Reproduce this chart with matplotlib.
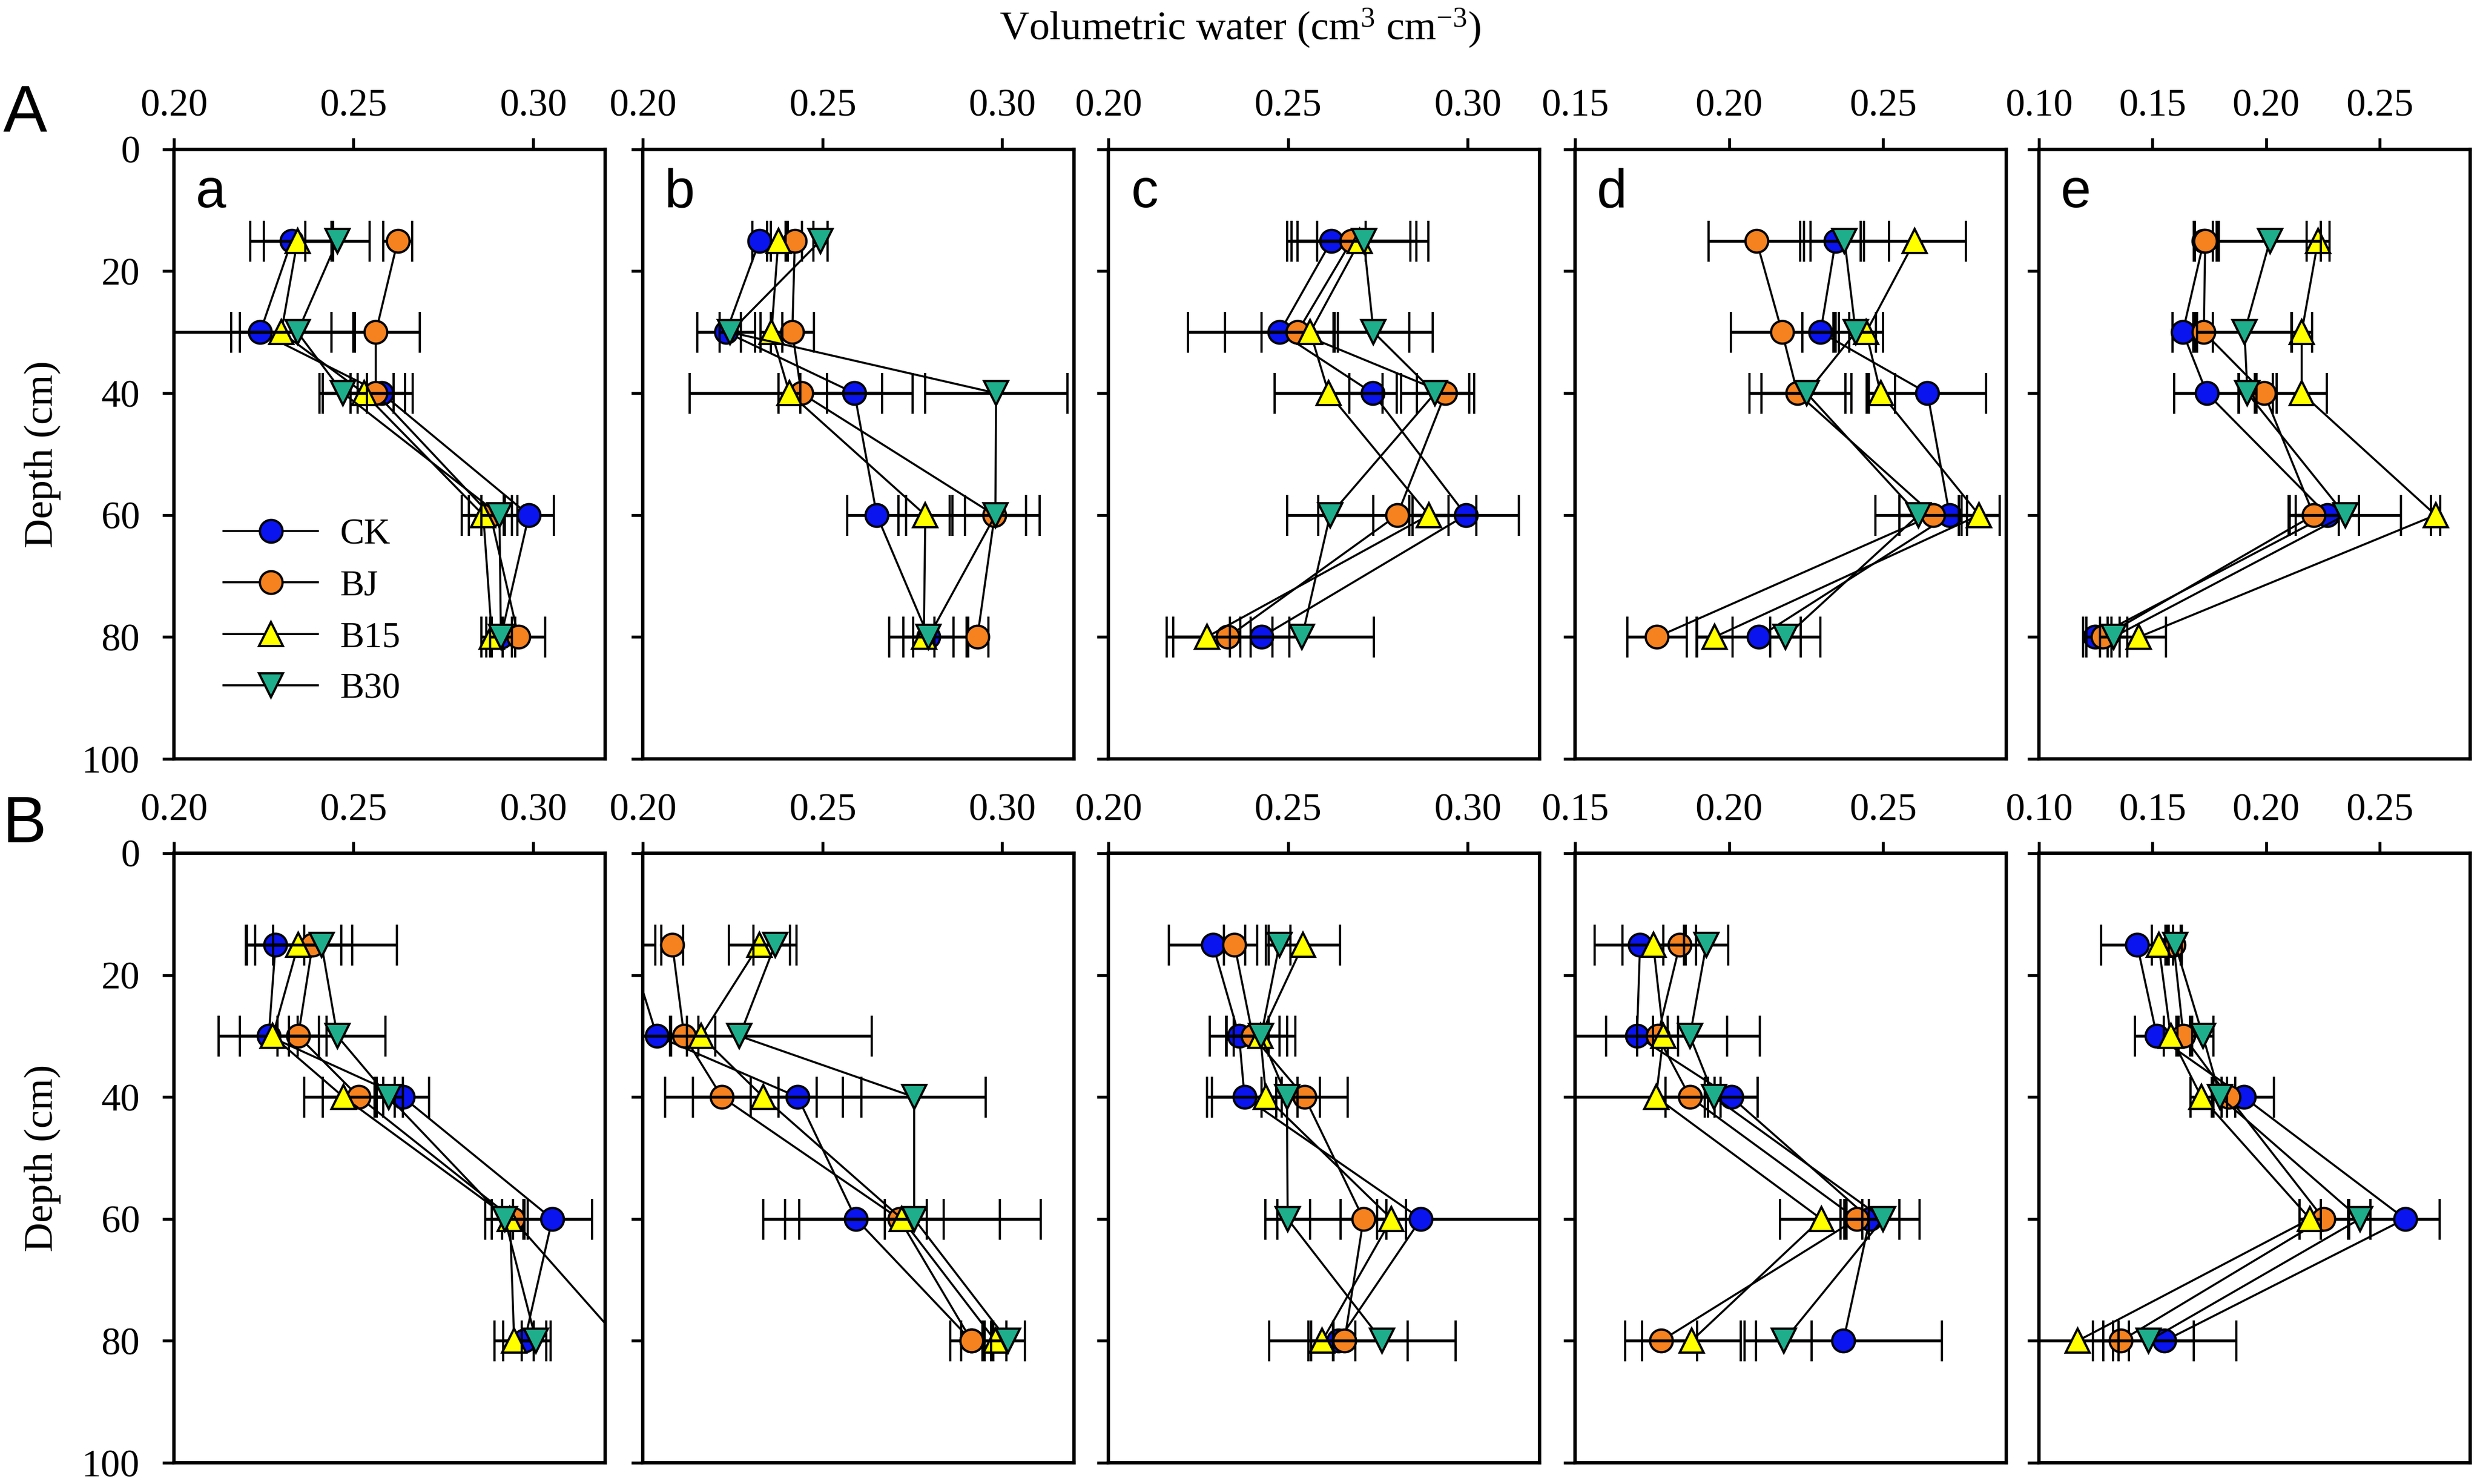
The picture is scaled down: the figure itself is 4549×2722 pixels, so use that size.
import numpy as np
import matplotlib
matplotlib.use("Agg")
import matplotlib.pyplot as plt
from matplotlib.ticker import MultipleLocator, FormatStrFormatter

plt.rcParams['font.family'] = ['Liberation Serif', 'DejaVu Serif']
plt.rcParams['mathtext.fontset'] = 'custom'
plt.rcParams['mathtext.rm'] = 'Liberation Serif'
plt.rcParams['mathtext.it'] = 'Liberation Serif:italic'

depth = [15, 30, 40, 60, 80]
series = ['CK', 'BJ', 'B15', 'B30']
colors = {'CK': '#0a14ee', 'BJ': '#f5821f', 'B15': '#ffff00', 'B30': '#1fae8b'}
markers = {'CK': 'o', 'BJ': 'o', 'B15': '^', 'B30': 'v'}

# upper row (A), volumetric water means and error
A_a = {'CK': [0.2328, 0.2240, 0.2578, 0.2988, 0.2910],
       'BJ': [0.2623, 0.2562, 0.2562, 0.2881, 0.2959],
       'B15': [0.2344, 0.2299, 0.2529, 0.2861, 0.2885],
       'B30': [0.2455, 0.2344, 0.2471, 0.2906, 0.2910]}
A_a_err = {'CK': [0.0115, 0.026, 0.0086, 0.007, 0.004],
           'BJ': [0.004, 0.0123, 0.005, 0.006, 0.0074],
           'B15': [0.0094, 0.014, 0.0115, 0.006, 0.003],
           'B30': [0.009, 0.016, 0.0066, 0.005, 0.003]}

A_b = {'CK': [0.2325, 0.2232, 0.2589, 0.2651, 0.2795],
       'BJ': [0.2423, 0.2416, 0.2441, 0.2979, 0.2931],
       'B15': [0.2377, 0.2358, 0.2408, 0.2786, 0.2782],
       'B30': [0.2494, 0.2243, 0.2983, 0.2981, 0.2795]}
A_b_err = {'CK': [0.002, 0.008, 0.0077, 0.0082, 0.011],
           'BJ': [0.002, 0.006, 0.031, 0.0125, 0.003],
           'B15': [0.002, 0.003, 0.003, 0.0075, 0.003],
           'B30': [0.002, 0.003, 0.0198, 0.0085, 0.007]}

A_c = {'CK': [0.2621, 0.2477, 0.2736, 0.2995, 0.2426],
       'BJ': [0.2677, 0.2526, 0.2938, 0.2804, 0.2333],
       'B15': [0.2700, 0.2562, 0.2613, 0.2892, 0.2274],
       'B30': [0.2711, 0.2738, 0.2909, 0.2617, 0.2539]}
A_c_err = {'CK': [0.0095, 0.0152, 0.0066, 0.0148, 0.003],
           'BJ': [0.018, 0.010, 0.008, 0.022, 0.017],
           'B15': [0.019, 0.034, 0.015, 0.0055, 0.0093],
           'B30': [0.013, 0.010, 0.0095, 0.012, 0.020]}

A_d = {'CK': [0.2346, 0.2297, 0.2644, 0.2716, 0.2097],
       'BJ': [0.2089, 0.2172, 0.2222, 0.2663, 0.1766],
       'B15': [0.2603, 0.2445, 0.2492, 0.2812, 0.1953],
       'B30': [0.2375, 0.2411, 0.2252, 0.2615, 0.2183]}
A_d_err = {'CK': [0.0082, 0.006, 0.019, 0.0163, 0.020],
           'BJ': [0.0155, 0.0166, 0.0155, 0.011, 0.0096],
           'B15': [0.0166, 0.0055, 0.0046, 0.0067, 0.0058],
           'B30': [0.0144, 0.0065, 0.0146, 0.014, 0.005]}

A_e = {'CK': [0.1726, 0.1633, 0.1739, 0.2270, 0.1248],
       'BJ': [0.1732, 0.1726, 0.1991, 0.2210, 0.1281],
       'B15': [0.2229, 0.2157, 0.2157, 0.2747, 0.1440],
       'B30': [0.2017, 0.1905, 0.1918, 0.2349, 0.1328]}
A_e_err = {'CK': [0.004, 0.0046, 0.0143, 0.014, 0.0053],
           'BJ': [0.005, 0.004, 0.004, 0.011, 0.0073],
           'B15': [0.005, 0.0046, 0.011, 0.002, 0.012],
           'B30': [0.0225, 0.021, 0.004, 0.0245, 0.006]}

# lower row (B)
B_a = {'CK': [0.2283, 0.2264, 0.2637, 0.3053, 0.2976],
       'BJ': [0.2386, 0.2346, 0.2515, 0.2943, 0.3243],
       'B15': [0.2346, 0.2275, 0.2472, 0.2935, 0.2947],
       'B30': [0.2411, 0.2455, 0.2598, 0.2921, 0.3008]}
B_a_err = {'CK': [0.008, 0.008, 0.0073, 0.011, 0.006],
           'BJ': [0.011, 0.0057, 0.010, 0.003, 0.0],
           'B15': [0.012, 0.015, 0.011, 0.005, 0.0055],
           'B30': [0.021, 0.0134, 0.004, 0.0055, 0.004]}

B_b = {'CK': [0.1960, 0.2039, 0.2431, 0.2593, 0.2915],
       'BJ': [0.2082, 0.2115, 0.2220, 0.2714, 0.2915],
       'B15': [0.2324, 0.2162, 0.2335, 0.2721, 0.2981],
       'B30': [0.2368, 0.2269, 0.2755, 0.2755, 0.3016]}
B_b_err = {'CK': [0.0075, 0.004, 0.0053, 0.0197, 0.006],
           'BJ': [0.003, 0.004, 0.008, 0.0279, 0.003],
           'B15': [0.0085, 0.004, 0.0273, 0.0386, 0.003],
           'B30': [0.006, 0.0368, 0.0199, 0.0082, 0.0047]}

B_c = {'CK': [0.2291, 0.2364, 0.2379, 0.2870, 0.2640],
       'BJ': [0.2351, 0.2402, 0.2546, 0.2710, 0.2657],
       'B15': [0.2542, 0.2423, 0.2439, 0.2788, 0.2595],
       'B30': [0.2476, 0.2425, 0.2497, 0.2499, 0.2762]}
B_c_err = {'CK': [0.0123, 0.0082, 0.0104, 0.040, 0.0193],
           'BJ': [0.003, 0.0074, 0.012, 0.0064, 0.003],
           'B15': [0.0103, 0.0074, 0.015, 0.004, 0.003],
           'B30': [0.003, 0.0096, 0.003, 0.0062, 0.0205]}

B_d = {'CK': [0.1711, 0.1701, 0.2007, 0.2457, 0.2371],
       'BJ': [0.1840, 0.1768, 0.1873, 0.2414, 0.1779],
       'B15': [0.1754, 0.1787, 0.1763, 0.2299, 0.1878],
       'B30': [0.1926, 0.1873, 0.1952, 0.2500, 0.2178]}
B_d_err = {'CK': [0.0148, 0.010, 0.0086, 0.0096, 0.032],
           'BJ': [0.0053, 0.0067, 0.008, 0.004, 0.0117],
           'B15': [0.010, 0.0313, 0.033, 0.0134, 0.016],
           'B30': [0.0072, 0.012, 0.002, 0.0118, 0.009]}

B_e = {'CK': [0.1432, 0.1519, 0.1902, 0.2613, 0.1553],
       'BJ': [0.1593, 0.1636, 0.1835, 0.2254, 0.1360],
       'B15': [0.1527, 0.1580, 0.1715, 0.2194, 0.1170],
       'B30': [0.1600, 0.1722, 0.1798, 0.2414, 0.1483]}
B_e_err = {'CK': [0.0158, 0.0096, 0.0133, 0.0153, 0.0315],
           'BJ': [0.003, 0.003, 0.003, 0.0107, 0.0035],
           'B15': [0.003, 0.003, 0.0047, 0.0047, 0.018],
           'B30': [0.003, 0.0047, 0.003, 0.0047, 0.0199]}

xlims = [(0.20, 0.32), (0.20, 0.32), (0.20, 0.32), (0.15, 0.29), (0.10, 0.29)]
letters = ['a', 'b', 'c', 'd', 'e']
rows = [[(A_a, A_a_err), (A_b, A_b_err), (A_c, A_c_err), (A_d, A_d_err), (A_e, A_e_err)],
        [(B_a, B_a_err), (B_b, B_b_err), (B_c, B_c_err), (B_d, B_d_err), (B_e, B_e_err)]]

fig = plt.figure(figsize=(4549 / 300, 2722 / 300), dpi=300)

lefts = [0.0701, 0.2592, 0.4469, 0.6351, 0.8222]
bottoms = [0.4886, 0.0143]
w, h = 0.1739, 0.4108

for r in range(2):
    for c in range(5):
        ax = fig.add_axes([lefts[c], bottoms[r], w, h])
        means, errs = rows[r][c]
        handles = []
        for k, s in enumerate(series):
            eb = ax.errorbar(means[s], depth, xerr=errs[s], fmt='-', color='black',
                             marker=markers[s], mfc=colors[s], mec='black', mew=1.0,
                             ms=10.5 if markers[s] != 'o' else 10, lw=0.9,
                             elinewidth=1.3, capsize=9, capthick=1.3,
                             zorder=3 + k)
            handles.append(eb[0])
        ax.set_xlim(*xlims[c])
        ax.set_ylim(100, 0)
        ax.xaxis.set_major_locator(MultipleLocator(0.05))
        ax.xaxis.set_major_formatter(FormatStrFormatter('%.2f'))
        ax.yaxis.set_major_locator(MultipleLocator(20))
        ax.tick_params(axis='x', top=True, bottom=False, labeltop=True,
                       labelbottom=False, direction='out', length=5,
                       width=1.3, pad=6, labelsize=17,
                       labelfontfamily='Liberation Serif')
        ax.tick_params(axis='y', left=True, right=False, direction='out',
                       length=5, width=1.3, pad=10, labelsize=17,
                       labelleft=(c == 0), labelfontfamily='Liberation Serif')
        for sp in ax.spines.values():
            sp.set_linewidth(1.5)
        if r == 0:
            ax.text(0.085, 0.928, letters[c], transform=ax.transAxes,
                    family='Liberation Sans', fontsize=24, ha='center', va='center')
        if r == 0 and c == 0:
            ax.legend(handles, series, loc='upper left', bbox_to_anchor=(0.115, 0.395),
                      frameon=False, fontsize=16, handlelength=2.6,
                      handletextpad=0.6, labelspacing=0.5,
                      borderaxespad=0, borderpad=0)

fig.text(0.5, 0.981, 'Volumetric water (cm$^{3}$ cm$^{-3}$)', ha='center',
         va='center', fontsize=18)
fig.text(78 / 4549, bottoms[0] + h / 2, 'Depth (cm)', rotation=90,
         ha='center', va='center', fontsize=18)
fig.text(78 / 4549, bottoms[1] + h / 2, 'Depth (cm)', rotation=90,
         ha='center', va='center', fontsize=18)
fig.text(0.0101, 0.9229, 'A', family='Liberation Sans', fontsize=29,
         ha='center', va='center')
fig.text(0.0097, 0.4438, 'B', family='Liberation Sans', fontsize=29,
         ha='center', va='center')

fig.savefig('out.png', dpi=300)
